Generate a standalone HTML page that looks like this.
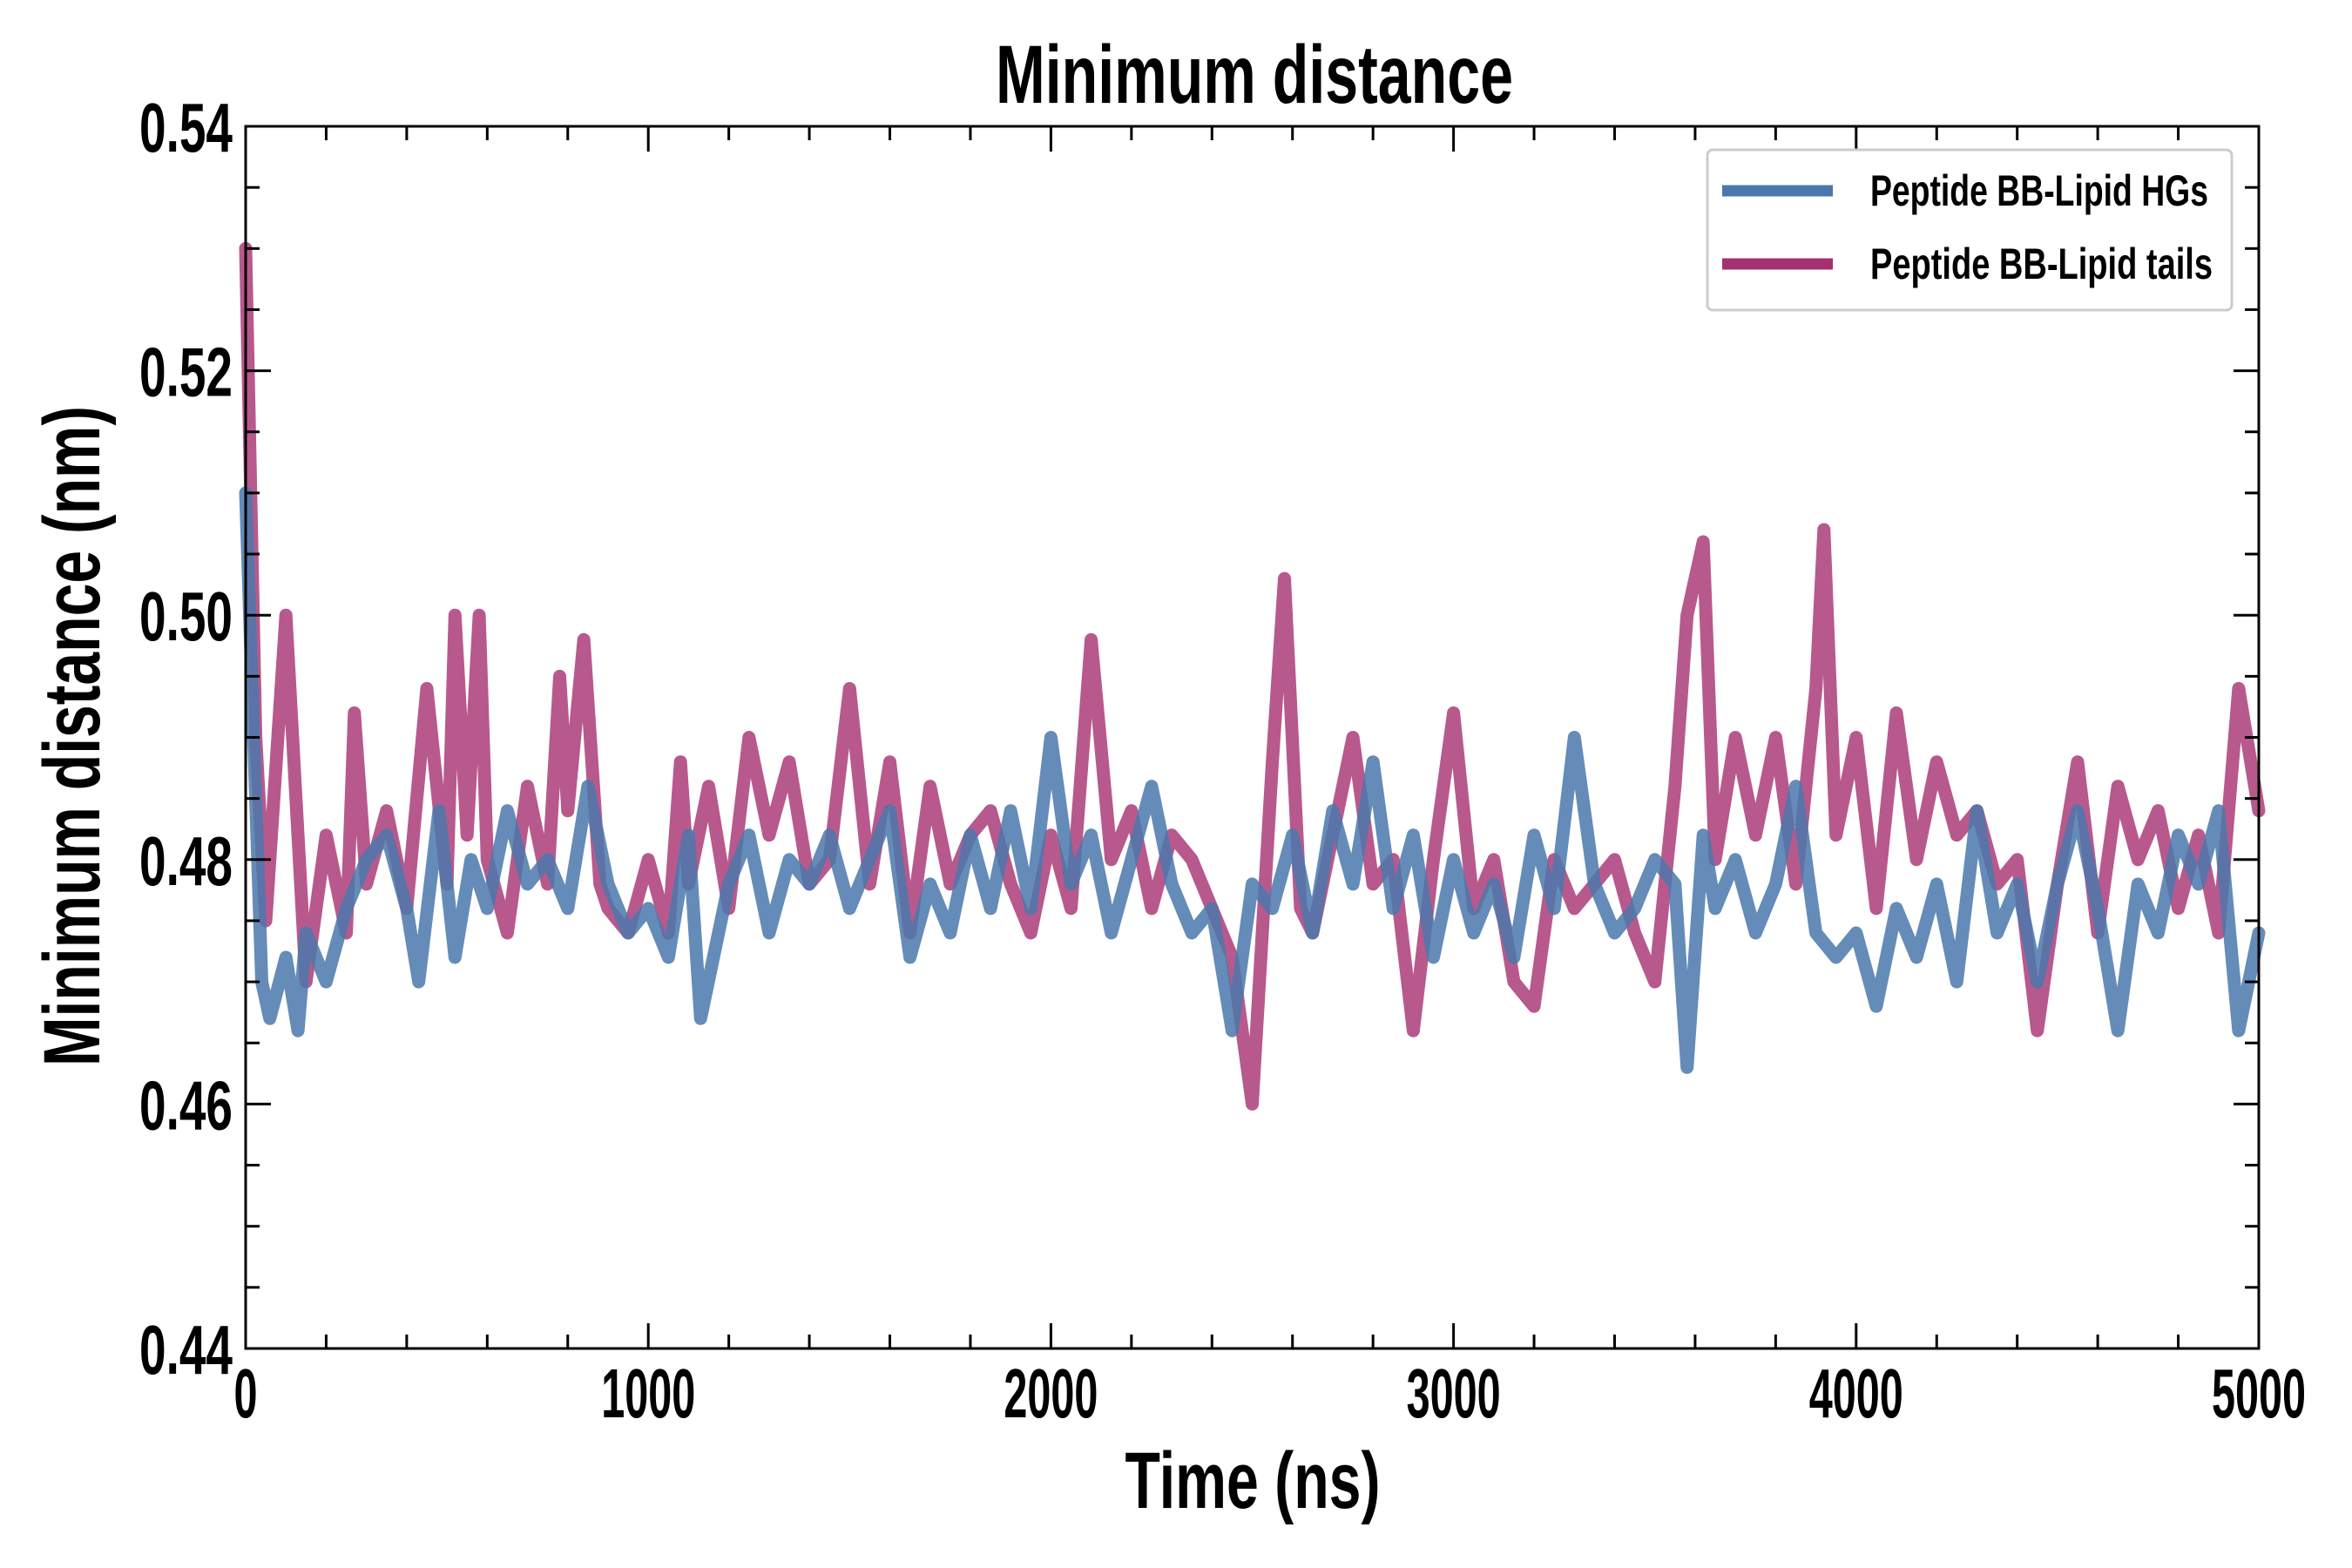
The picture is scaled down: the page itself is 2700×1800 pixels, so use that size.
<!DOCTYPE html>
<html><head><meta charset="utf-8"><style>
body{margin:0;background:#fff}
svg{display:block;font-family:"Liberation Sans Narrow","Liberation Sans",sans-serif;font-weight:bold}
</style></head><body>
<svg id="chart" width="2700" height="1800" viewBox="0 0 2700 1800">
<rect width="2700" height="1800" fill="#fff"/>
<g id="series"></g>
<g id="axes"></g>
<text x="1440" y="118" text-anchor="middle" font-size="95" textLength="594" lengthAdjust="spacingAndGlyphs">Minimum distance</text>
<text x="1438" y="1731" text-anchor="middle" font-size="92" textLength="293" lengthAdjust="spacingAndGlyphs">Time (ns)</text>
<text transform="translate(114,845) rotate(-90)" text-anchor="middle" font-size="92" textLength="758" lengthAdjust="spacingAndGlyphs">Minimum distance (nm)</text>
<g>
<rect x="1960" y="172" width="602" height="184" rx="6" fill="#fff" stroke="#ccc" stroke-width="3"/>
<line x1="1977" y1="219" x2="2104" y2="219" stroke="#4a78ab" stroke-width="13"/>
<text x="2147" y="236" font-size="50" textLength="388" lengthAdjust="spacingAndGlyphs">Peptide BB-Lipid HGs</text>
<line x1="1977" y1="303" x2="2104" y2="303" stroke="#a63070" stroke-width="13"/>
<text x="2147" y="320" font-size="50" textLength="393" lengthAdjust="spacingAndGlyphs">Peptide BB-Lipid tails</text>
</g>
</svg>
<script>
const tailsT=[0,25,50,100,150,200,250,270,300,350,400,450,500,520,550,580,600,650,700,750,780,800,840,880,900,950,1000,1050,1080,1100,1150,1200,1250,1300,1350,1400,1450,1500,1550,1600,1650,1700,1750,1800,1850,1900,1950,2000,2050,2100,2150,2200,2250,2300,2350,2400,2450,2500,2550,2580,2620,2650,2700,2750,2800,2850,2900,2950,3000,3050,3100,3150,3200,3250,3300,3350,3400,3450,3500,3550,3580,3620,3650,3700,3750,3800,3850,3900,3920,3950,4000,4050,4100,4150,4200,4250,4300,4350,4400,4450,4500,4550,4600,4650,4700,4750,4800,4850,4900,4950,5000];
const tailsV=[0.530,0.490,0.475,0.500,0.470,0.482,0.474,0.492,0.478,0.484,0.476,0.494,0.478,0.500,0.482,0.500,0.480,0.474,0.486,0.478,0.495,0.484,0.498,0.478,0.476,0.474,0.480,0.474,0.488,0.478,0.486,0.476,0.490,0.482,0.488,0.478,0.480,0.494,0.478,0.488,0.474,0.486,0.478,0.482,0.484,0.478,0.474,0.482,0.476,0.498,0.480,0.484,0.476,0.482,0.480,0.476,0.472,0.460,0.488,0.503,0.476,0.474,0.482,0.490,0.478,0.480,0.466,0.480,0.492,0.476,0.480,0.470,0.468,0.480,0.476,0.478,0.480,0.474,0.470,0.486,0.500,0.506,0.480,0.490,0.482,0.490,0.478,0.494,0.507,0.482,0.490,0.476,0.492,0.480,0.488,0.482,0.484,0.478,0.480,0.466,0.478,0.488,0.474,0.486,0.480,0.484,0.476,0.482,0.474,0.494,0.484];
const hgsT=[0,20,40,60,100,130,150,200,250,300,350,400,430,480,520,560,600,650,700,750,800,850,900,950,1000,1050,1100,1130,1200,1250,1300,1350,1400,1450,1500,1550,1600,1650,1700,1750,1800,1850,1900,1950,2000,2050,2100,2150,2200,2250,2300,2350,2400,2450,2500,2550,2600,2650,2700,2750,2800,2850,2900,2950,3000,3050,3100,3150,3200,3250,3300,3350,3400,3450,3500,3550,3580,3620,3650,3700,3750,3800,3850,3900,3950,4000,4050,4100,4150,4200,4250,4300,4350,4400,4450,4500,4550,4600,4650,4700,4750,4800,4850,4900,4950,5000];
const hgsV=[0.510,0.490,0.470,0.467,0.472,0.466,0.474,0.470,0.476,0.480,0.482,0.476,0.470,0.484,0.472,0.480,0.476,0.484,0.478,0.480,0.476,0.486,0.478,0.474,0.476,0.472,0.482,0.467,0.478,0.482,0.474,0.480,0.478,0.482,0.476,0.480,0.484,0.472,0.478,0.474,0.482,0.476,0.484,0.476,0.490,0.478,0.482,0.474,0.480,0.486,0.478,0.474,0.476,0.466,0.478,0.476,0.482,0.474,0.484,0.478,0.488,0.476,0.482,0.472,0.480,0.474,0.478,0.472,0.482,0.476,0.490,0.478,0.474,0.476,0.480,0.478,0.463,0.482,0.476,0.480,0.474,0.478,0.486,0.474,0.472,0.474,0.468,0.476,0.472,0.478,0.470,0.484,0.474,0.478,0.470,0.478,0.484,0.476,0.466,0.478,0.474,0.482,0.478,0.484,0.466,0.474];
const xTicks=[0,1000,2000,3000,4000,5000];
const yTicks=[0.44,0.46,0.48,0.50,0.52,0.54];
const L=282,R=2593,T=145,B=1548;
const sx=t=>L+(t-0)/(5000)*(R-L);
const sy=v=>B-(v-0.44)/(0.10)*(B-T);
const NS='http://www.w3.org/2000/svg';
const ser=document.getElementById('series'), ax=document.getElementById('axes');
function path(ts,vs,color,op,name){
  const p=document.createElementNS(NS,'path');
  p.setAttribute('d',ts.map((t,i)=>(i?'L':'M')+sx(t).toFixed(1)+','+sy(vs[i]).toFixed(1)).join(''));
  p.setAttribute('fill','none');p.setAttribute('stroke',color);p.setAttribute('stroke-width','15');
  p.setAttribute('stroke-opacity',op);p.setAttribute('stroke-linejoin','round');p.setAttribute('stroke-linecap','round');
  
  
  ser.appendChild(p);
}
path(tailsT,tailsV,'#a63070','0.8','series-lipid-tails');
path(hgsT,hgsV,'#4a78ab','0.85','series-lipid-hgs');
function ln(x1,y1,x2,y2,w){const l=document.createElementNS(NS,'line');l.setAttribute('x1',x1);l.setAttribute('y1',y1);l.setAttribute('x2',x2);l.setAttribute('y2',y2);l.setAttribute('stroke','#000');l.setAttribute('stroke-width',w);


ax.appendChild(l);}
const fr=document.createElementNS(NS,'rect');fr.setAttribute('x',L);fr.setAttribute('y',T);fr.setAttribute('width',R-L);fr.setAttribute('height',B-T);fr.setAttribute('fill','none');fr.setAttribute('stroke','#000');fr.setAttribute('stroke-width','3');


ax.appendChild(fr);
for(let t=0;t<=5000;t+=200){const maj=t%1000===0;const len=maj?29:16;const x=sx(t);ln(x,B,x,B-len,3);ln(x,T,x,T+len,3);}
for(let k=0;k<=20;k++){const v=0.44+k*0.005;const maj=k%4===0;const len=maj?29:16;const y=sy(v);ln(L,y,L+len,y,3);ln(R,y,R-len,y,3);}
xTicks.forEach(t=>{const tx=document.createElementNS(NS,'text');tx.setAttribute('x',sx(t));tx.setAttribute('y',1627);tx.setAttribute('text-anchor','middle');tx.setAttribute('font-size','80');
tx.textContent=String(t);tx.setAttribute('textLength',String(t).length*27);tx.setAttribute('lengthAdjust','spacingAndGlyphs');


ax.appendChild(tx);});
yTicks.forEach(v=>{const tx=document.createElementNS(NS,'text');tx.setAttribute('x',267);tx.setAttribute('y',sy(v)+29);tx.setAttribute('text-anchor','end');tx.setAttribute('font-size','80');
tx.textContent=v.toFixed(2);tx.setAttribute('textLength',107);tx.setAttribute('lengthAdjust','spacingAndGlyphs');


ax.appendChild(tx);});
</script>
</body></html>
